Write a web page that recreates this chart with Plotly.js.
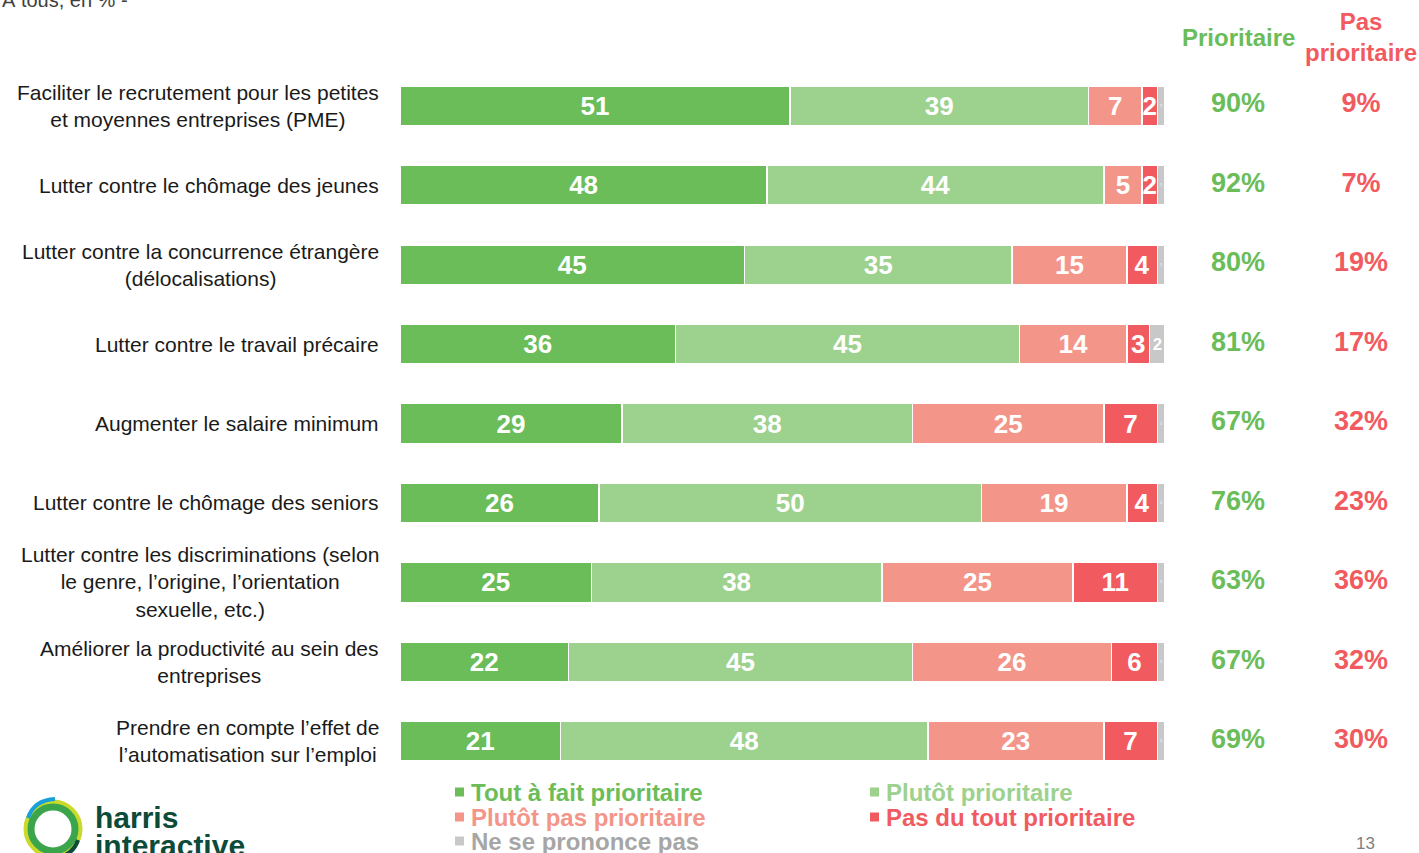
<!DOCTYPE html>
<html>
<head>
<meta charset="utf-8">
<script src="https://cdn.plot.ly/plotly-3.0.1.min.js"></script>
<style>html,body{margin:0;padding:0;background:#fff;}#chart{width:1419px;height:853px;}</style>
</head>
<body>
<div id="chart"></div>
<script>
const categories = [
  "Faciliter le recrutement pour les petites<br>et moyennes entreprises (PME)",
  "Lutter contre le chômage des jeunes",
  "Lutter contre la concurrence étrangère<br>(délocalisations)",
  "Lutter contre le travail précaire",
  "Augmenter le salaire minimum",
  "Lutter contre le chômage des seniors",
  "Lutter contre les discriminations (selon<br>le genre, l’origine, l’orientation<br>sexuelle, etc.)",
  "Améliorer la productivité au sein des<br>entreprises",
  "Prendre en compte l’effet de<br>l’automatisation sur l’emploi"
];
const toutAFait   = [51, 48, 45, 36, 29, 26, 25, 22, 21];
const plutot      = [39, 44, 35, 45, 38, 50, 38, 45, 48];
const plutotPas   = [7, 5, 15, 14, 25, 19, 25, 26, 23];
const pasDuTout   = [2, 2, 4, 3, 7, 4, 11, 6, 7];
const nspp        = [1, 1, 1, 2, 1, 1, 1, 1, 1];
const prioritaire = [90, 92, 80, 81, 67, 76, 63, 67, 69];
const pasPrio     = [9, 7, 19, 17, 32, 23, 36, 32, 30];
const seriesNames = ["Tout à fait prioritaire", "Plutôt prioritaire", "Plutôt pas prioritaire", "Pas du tout prioritaire", "Ne se prononce pas"];
const columnHeaders = ["Prioritaire", "Pas prioritaire"];

const colors = ["#6abd58", "#9dd18e", "#f4958a", "#f15b5f", "#c8c8c8"];
const legendTextColors = ["#6abd58", "#9dd18e", "#f4958a", "#f15b5f", "#a6a6a6"];
const FONT = "Liberation Sans, Arial, sans-serif";

const series = [toutAFait, plutot, plutotPas, pasDuTout, nspp];
const traces = series.map((vals, i) => ({
  type: "bar",
  orientation: "h",
  name: seriesNames[i],
  x: vals,
  y: categories,
  text: vals.map(String),
  textposition: "inside",
  insidetextanchor: "middle",
  textangle: 0,
  constraintext: i === 4 ? "inside" : "none",
  textfont: {family: FONT, size: 26, color: "#ffffff", weight: "bold"},
  marker: {color: colors[i], line: {color: "#ffffff", width: 1.5}},
  width: 0.5,
  hoverinfo: "skip",
  showlegend: false,
  cliponaxis: false
}));

traces.push({
  type: "scatter", mode: "text", xaxis: "x2", yaxis: "y",
  x: categories.map(() => columnHeaders[0]), y: categories,
  text: prioritaire.map(v => v + "%"),
  textfont: {family: FONT, size: 27, color: "#6abd58", weight: "bold"},
  hoverinfo: "skip", showlegend: false, cliponaxis: false
});
traces.push({
  type: "scatter", mode: "text", xaxis: "x2", yaxis: "y",
  x: categories.map(() => columnHeaders[1]), y: categories,
  text: pasPrio.map(v => v + "%"),
  textfont: {family: FONT, size: 27, color: "#f15b5f", weight: "bold"},
  hoverinfo: "skip", showlegend: false, cliponaxis: false
});

// pixel helpers for layout-only decorations
const L = 400, T = 66, W = 1019, H = 715;
const px = x => (x - L) / W;
const py = y => (T + H - y) / H;

const annotations = [];
categories.forEach(c => annotations.push({
  xref: "paper", yref: "y", x: 0, y: c, xanchor: "right", yanchor: "middle",
  xshift: -19, align: "center", showarrow: false, text: c,
  font: {family: FONT, size: 21, color: "#1a1a1a"}
}));
annotations.push({xref: "x2", yref: "paper", x: columnHeaders[0], y: py(37), xanchor: "center", yanchor: "middle",
  showarrow: false, text: "<b>Prioritaire</b>", font: {family: FONT, size: 24, color: "#6abd58"}});
annotations.push({xref: "x2", yref: "paper", x: columnHeaders[1], y: py(37), xanchor: "center", yanchor: "middle",
  showarrow: false, text: "<b>Pas<br>prioritaire</b>", font: {family: FONT, size: 24, color: "#f15b5f"}});
annotations.push({xref: "paper", yref: "paper", x: px(0), y: py(0), xanchor: "left", yanchor: "middle",
  showarrow: false, text: "À tous, en % -", font: {family: FONT, size: 20, color: "#404040"}});

// legend (custom, two columns)
const legendPos = [[455, 792], [870, 792], [455, 817], [870, 817], [455, 841]];
const shapes = [];
seriesNames.forEach((n, i) => {
  const [lx, ly] = legendPos[i];
  shapes.push({type: "rect", xref: "paper", yref: "paper",
    x0: px(lx), x1: px(lx + 9), y0: py(ly + 4.5), y1: py(ly - 4.5),
    fillcolor: colors[i], line: {width: 0}});
  annotations.push({xref: "paper", yref: "paper", x: px(lx + 14), y: py(ly), xanchor: "left", yanchor: "middle",
    showarrow: false, text: "<b>" + n + "</b>", font: {family: FONT, size: 24, color: legendTextColors[i]}});
});

// logo
annotations.push({xref: "paper", yref: "paper", x: px(93), y: py(817), xanchor: "left", yanchor: "middle",
  showarrow: false, text: "<b>harris</b>", font: {family: FONT, size: 30, color: "#0c4a3a"}});
annotations.push({xref: "paper", yref: "paper", x: px(93), y: py(846), xanchor: "left", yanchor: "middle",
  showarrow: false, text: "<b>interactive</b>", font: {family: FONT, size: 30, color: "#0c4a3a"}});
shapes.push({type: "circle", xref: "paper", yref: "paper", x0: px(26), x1: px(80), y0: py(856), y1: py(802),
  line: {color: "#c9da2b", width: 5}});
shapes.push({type: "circle", xref: "paper", yref: "paper", x0: px(31), x1: px(75), y0: py(851), y1: py(807),
  line: {color: "#3aa54a", width: 7}});
shapes.push({type: "path", xref: "paper", yref: "paper",
  path: `M ${px(28)} ${py(818)} Q ${px(34)} ${py(800)} ${px(55)} ${py(799)}`,
  line: {color: "#1aa0d8", width: 4}});
shapes.push({type: "path", xref: "paper", yref: "paper",
  path: `M ${px(78)} ${py(840)} Q ${px(72)} ${py(858)} ${px(50)} ${py(858)}`,
  line: {color: "#0c4a3a", width: 4}});

annotations.push({xref: "paper", yref: "paper", x: px(1365), y: py(843), xanchor: "center", yanchor: "middle",
  showarrow: false, text: "13", font: {family: FONT, size: 17, color: "#808080"}});

const layout = {
  width: 1419, height: 853,
  margin: {l: L, r: 0, t: T, b: 853 - T - H, pad: 0},
  paper_bgcolor: "#ffffff", plot_bgcolor: "#ffffff",
  barmode: "stack",
  showlegend: false,
  xaxis: {domain: [0, 765 / W], range: [0, 100], visible: false, fixedrange: true},
  xaxis2: {domain: [765 / W, 1], type: "category", categoryarray: columnHeaders, categoryorder: "array",
    range: [-73 / 123, -73 / 123 + 254 / 123], visible: false, anchor: "y", fixedrange: true},
  yaxis: {type: "category", categoryarray: categories, categoryorder: "array", range: [8.5, -0.5],
    showticklabels: false, showgrid: false, zeroline: false, showline: false, ticks: "", fixedrange: true},
  annotations: annotations,
  shapes: shapes,
  font: {family: FONT}
};

Plotly.newPlot("chart", traces, layout, {displayModeBar: false, staticPlot: true});
</script>
</body>
</html>
